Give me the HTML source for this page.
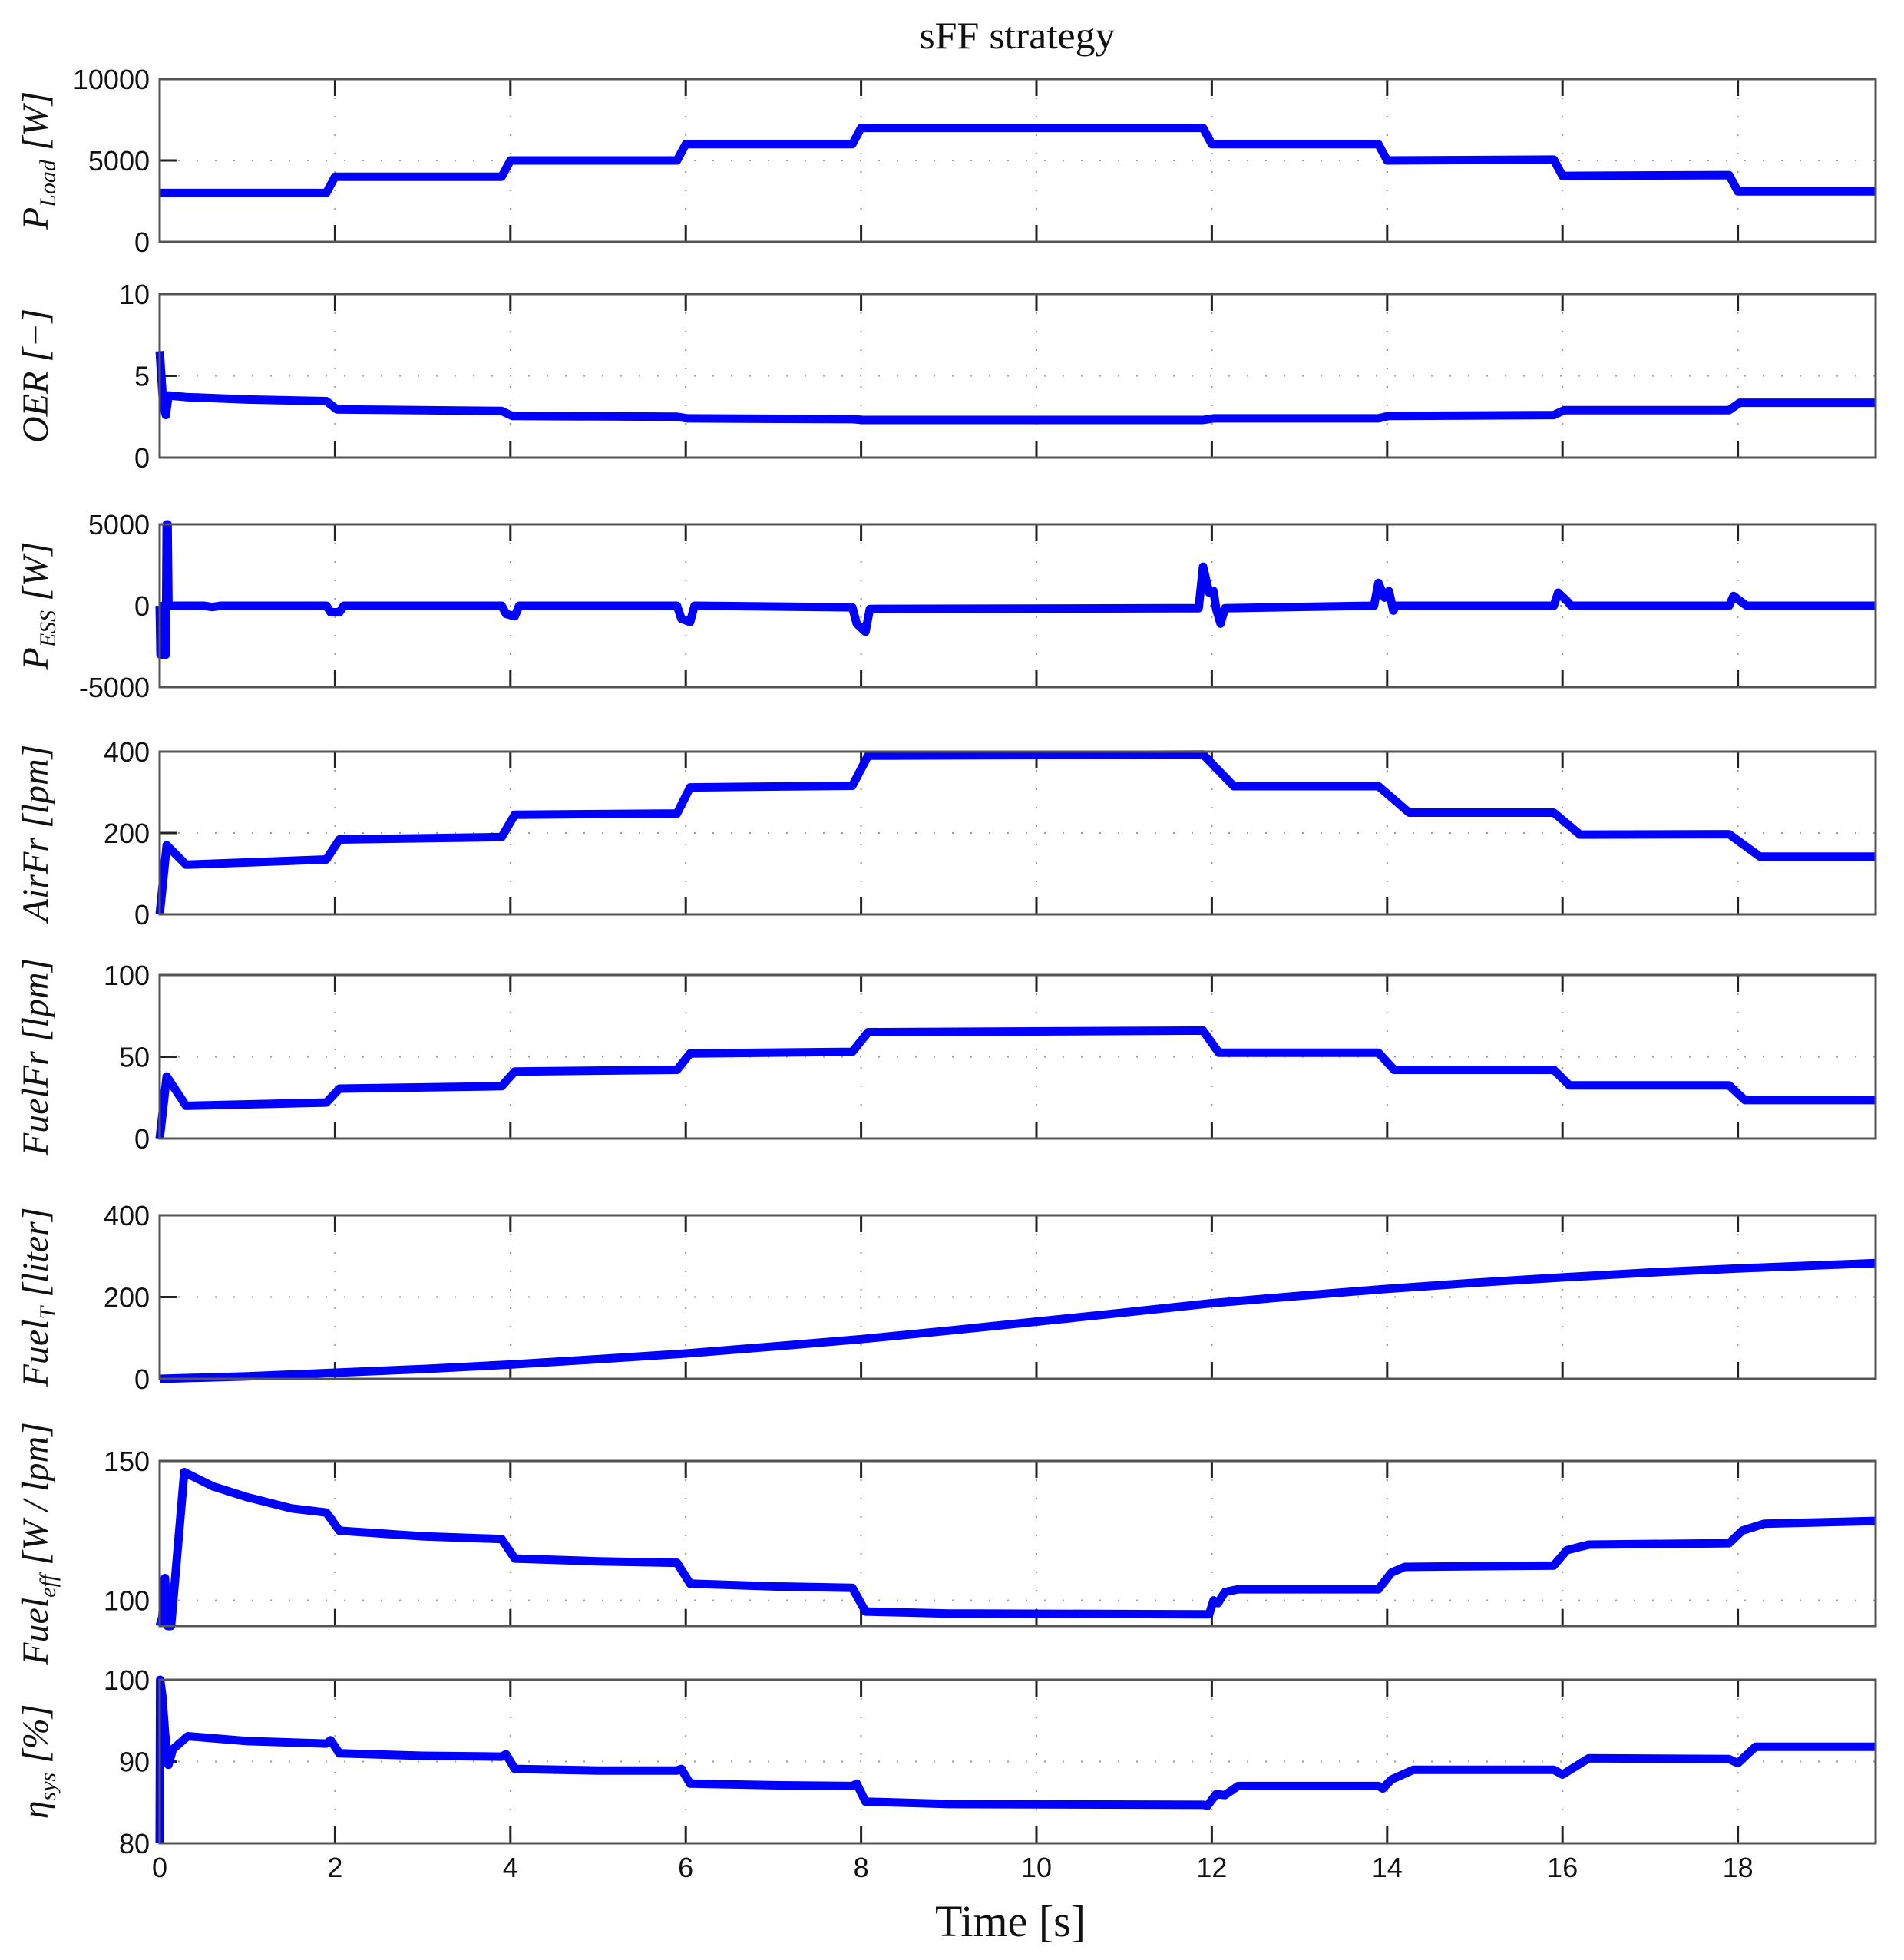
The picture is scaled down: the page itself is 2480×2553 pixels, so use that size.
<!DOCTYPE html>
<html><head><meta charset="utf-8"><style>
html,body{margin:0;padding:0;background:#fff;}
svg{display:block;}
.tk{font-family:"Liberation Sans",Arial,sans-serif;font-size:36px;fill:#111;}
.yl{font-family:"Liberation Serif",serif;font-style:italic;font-size:48px;fill:#111;}
</style></head><body>
<svg id="s" width="2480" height="2553" viewBox="0 0 2480 2553" xmlns="http://www.w3.org/2000/svg">
<rect width="2480" height="2553" fill="#fff"/>
<text x="1325" y="63" text-anchor="middle" font-family="Liberation Serif,serif" font-size="50" fill="#111" textLength="255" lengthAdjust="spacingAndGlyphs">sFF strategy</text>
<text x="1316" y="2522" text-anchor="middle" font-family="Liberation Serif,serif" font-size="58" fill="#111">Time [s]</text>
<g id="g"></g>
</svg>
<script>
var X0=208,XS=114.2,XR=2443,TMAX=(XR-X0)/XS;
function px(t){return X0+XS*t;}
var P=[
 {top:103,bot:315,y0:0,y1:10000,ticks:[0,5000,10000],lab:'<tspan>P</tspan><tspan font-size="30" dy="10">Load</tspan><tspan dy="-10"> [W]</tspan>',
  d:[[0,3000],[1.9,3000],[2.0,4000],[3.9,4000],[4.0,5000],[5.9,5000],[6.0,6000],[7.9,6000],[8.0,7000],[11.9,7000],[12.0,6000],[13.9,6000],[14.0,5000],[15.9,5050],[16.0,4050],[17.9,4100],[18.0,3100],[TMAX,3100]]},
 {top:383,bot:596,y0:0,y1:10,ticks:[0,5,10],lab:'OER [\u2212]',
  d:[[0,6.5],[0.04,3.2],[0.07,2.6],[0.1,3.8],[0.3,3.7],[1,3.55],[1.9,3.45],[2.02,2.95],[3.9,2.85],[4.02,2.55],[5.9,2.5],[6.02,2.4],[7.9,2.35],[8.02,2.3],[11.9,2.3],[12.02,2.4],[13.9,2.4],[14.02,2.55],[15.9,2.6],[16.02,2.9],[17.9,2.9],[18.02,3.35],[TMAX,3.35]]},
 {top:683,bot:895,y0:-5000,y1:5000,ticks:[-5000,0,5000],lab:'<tspan>P</tspan><tspan font-size="30" dy="10">ESS</tspan><tspan dy="-10"> [W]</tspan>',
  d:[[0,0],[0.01,-3000],[0.03,-3000],[0.04,0],[0.05,-3000],[0.07,-3000],[0.08,5000],[0.09,5000],[0.1,0],[0.5,0],[0.6,-80],[0.7,0],[1.9,0],[1.95,-400],[2.05,-400],[2.1,0],[3.9,0],[3.95,-500],[4.05,-650],[4.1,0],[5.9,0],[5.95,-800],[6.05,-1000],[6.1,0],[7.9,-100],[7.95,-1100],[8.05,-1600],[8.1,-200],[11.85,-150],[11.9,2400],[11.97,800],[12.02,900],[12.05,-200],[12.1,-1100],[12.15,-150],[13.85,0],[13.9,1400],[13.97,500],[14.02,900],[14.07,-300],[14.1,0],[15.9,0],[15.95,800],[16.05,300],[16.1,0],[17.9,0],[17.95,600],[18.05,200],[18.1,0],[TMAX,0]]},
 {top:979,bot:1191,y0:0,y1:400,ticks:[0,200,400],lab:'AirFr [lpm]',
  d:[[0,0],[0.08,170],[0.3,122],[1.9,135],[2.05,184],[3.9,190],[4.05,245],[5.9,248],[6.05,312],[7.9,316],[8.08,390],[11.9,393],[12.25,315],[13.9,315],[14.25,250],[15.9,250],[16.2,196],[17.9,197],[18.25,142],[TMAX,142]]},
 {top:1270,bot:1483,y0:0,y1:100,ticks:[0,50,100],lab:'FuelFr [lpm]',
  d:[[0,0],[0.08,38],[0.3,20],[1.9,22],[2.05,30.5],[3.9,32],[4.05,41],[5.9,42],[6.05,52],[7.9,53],[8.08,65],[11.9,66],[12.08,52.5],[13.9,52.5],[14.08,42],[15.9,42],[16.08,32.5],[17.9,32.5],[18.08,23.5],[TMAX,23.5]]},
 {top:1583,bot:1796,y0:0,y1:400,ticks:[0,200,400],lab:'<tspan>Fuel</tspan><tspan font-size="30" dy="10">T</tspan><tspan dy="-10"> [liter]</tspan>',
  d:[[0,0],[1,6],[2,15],[3,24],[4,35],[5,48],[6,62],[7,79],[8,97],[9,118],[10,140],[11,162],[12,185],[13,203],[14,220],[15,235],[16,248],[17,260],[18,270],[TMAX,283]]},
 {top:1903,bot:2118,y0:90.8,y1:150,ticks:[100,150],lab:'<tspan>Fuel</tspan><tspan font-size="30" dy="10">eff</tspan><tspan dy="-10"> [W / lpm]</tspan>',
  d:[[0,90.8],[0.03,94],[0.06,108],[0.09,90.8],[0.13,90.8],[0.28,146],[0.6,141],[1,137],[1.5,133],[1.9,131.5],[2.05,125],[3,123],[3.9,122],[4.05,115],[5,114],[5.9,113.5],[6.05,106],[7,105],[7.9,104.5],[8.05,96],[9,95.3],[11.9,95],[11.97,95],[12.02,100],[12.07,99],[12.15,103],[12.3,104],[13.9,104],[14.05,110],[14.2,112],[15.9,112.5],[16.05,118],[16.3,120],[17.9,120.5],[18.05,125],[18.3,127.5],[TMAX,128.5]]},
 {top:2188,bot:2401,y0:80,y1:100,ticks:[80,90,100],lab:'<tspan>\u03b7</tspan><tspan font-size="30" dy="10">sys</tspan><tspan dy="-10"> [%]</tspan>',
  d:[[0,80],[0.005,100],[0.03,98],[0.06,93.5],[0.1,89.6],[0.15,91.5],[0.32,93.1],[1,92.5],[1.9,92.2],[1.95,92.6],[2.05,91],[3,90.7],[3.9,90.6],[3.95,90.9],[4.05,89.1],[5,88.9],[5.9,88.9],[5.95,89.1],[6.05,87.3],[7,87.1],[7.9,87],[7.95,87.3],[8.05,85.1],[9,84.8],[11.9,84.7],[11.95,84.6],[12.05,86],[12.15,85.9],[12.3,87],[13.9,87],[13.95,86.7],[14.05,87.8],[14.3,89],[15.9,89],[16.0,88.4],[16.3,90.4],[17.9,90.3],[18.0,89.8],[18.2,91.8],[TMAX,91.8]]}
];
var h='';
P.forEach(function(p){
 function py(v){return p.bot-(v-p.y0)/(p.y1-p.y0)*(p.bot-p.top);}
 for(var t=2;t<=18;t+=2){var x=px(t);
  h+='<line x1="'+x+'" y1="'+p.top+'" x2="'+x+'" y2="'+p.bot+'" stroke="#999" stroke-width="2" stroke-dasharray="2,22"/>';
  h+='<line x1="'+x+'" y1="'+p.top+'" x2="'+x+'" y2="'+(p.top+22)+'" stroke="#222" stroke-width="3"/>';
  h+='<line x1="'+x+'" y1="'+p.bot+'" x2="'+x+'" y2="'+(p.bot-22)+'" stroke="#222" stroke-width="3"/>';
 }
 p.ticks.forEach(function(v){var y=py(v);
  if(v!=p.y0&&v!=p.y1){
   h+='<line x1="'+X0+'" y1="'+y+'" x2="'+XR+'" y2="'+y+'" stroke="#999" stroke-width="2" stroke-dasharray="2,22"/>';
   h+='<line x1="'+X0+'" y1="'+y+'" x2="'+(X0+22)+'" y2="'+y+'" stroke="#222" stroke-width="3"/>';
  }
  h+='<text class="tk" x="195" y="'+(y+13)+'" text-anchor="end">'+v+'</text>';
 });
 var s='';p.d.forEach(function(q,i){var y=Math.max(p.top,Math.min(p.bot,py(q[1])));s+=(i?'L':'M')+px(q[0]).toFixed(1)+','+y.toFixed(1);});
 h+='<path d="'+s+'" fill="none" stroke="#0000ff" stroke-width="11" stroke-linejoin="round"/>';
 h+='<rect x="'+X0+'" y="'+p.top+'" width="'+(XR-X0)+'" height="'+(p.bot-p.top)+'" fill="none" stroke="#555" stroke-width="3"/>';
 var cy=(p.top+p.bot)/2;
 h+='<text class="yl" transform="translate(62,'+cy+') rotate(-90)" text-anchor="middle">'+p.lab+'</text>';
});
for(var t=0;t<=18;t+=2){h+='<text class="tk" x="'+px(t)+'" y="2445" text-anchor="middle">'+t+'</text>';}
document.getElementById('g').innerHTML=h;
</script>
</body></html>
